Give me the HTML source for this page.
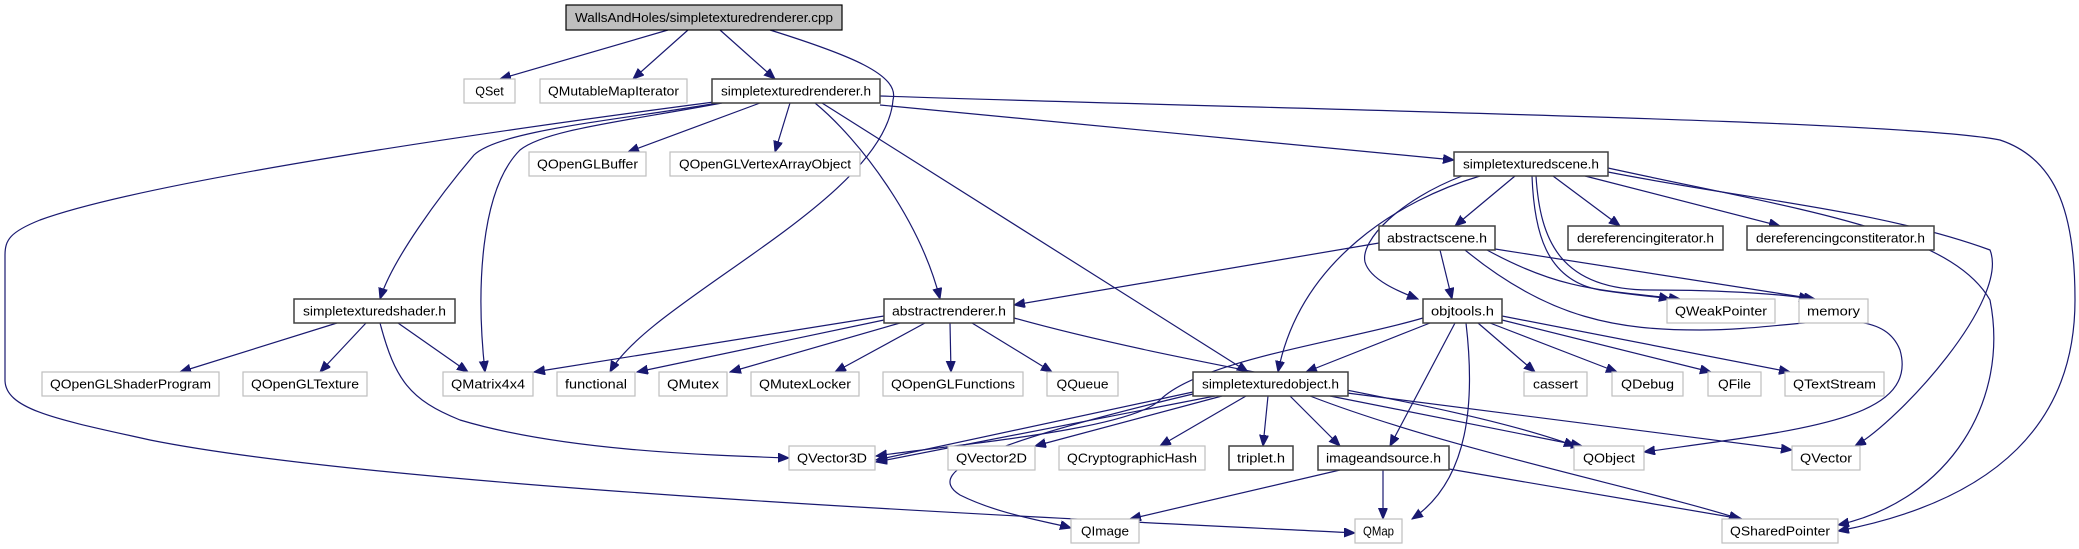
<!DOCTYPE html>
<html><head><meta charset="utf-8"><style>
html,body{margin:0;padding:0;background:#fff;}
svg{display:block;}
text{font-family:"Liberation Sans",sans-serif;font-size:12.5px;fill:#000;}
.e{fill:none;stroke:#191970;stroke-width:1.2;marker-end:url(#a);}
.g{fill:#fff;stroke:#bfbfbf;stroke-width:1.2;}
.b{fill:#fff;stroke:#404040;stroke-width:1.5;}
</style></head><body>
<svg width="2079" height="549" viewBox="0 0 2079 549" xmlns="http://www.w3.org/2000/svg">
<defs><marker id="a" markerUnits="userSpaceOnUse" markerWidth="12" markerHeight="10" refX="11" refY="4.5" orient="auto"><path d="M0,0 L11,4.5 L0,9 z" fill="#191970" stroke="#191970"/></marker></defs>
<g>
<path class="e" d="M668,30 L500,79"/>
<path class="e" d="M688,30 L633,79"/>
<path class="e" d="M720,30 L775,79"/>
<path class="e" d="M770,30 C850,55 900,75 893,100 C885,200 650,300 610,372"/>
<path class="e" d="M760,103 L628,152"/>
<path class="e" d="M790,103 L775,152"/>
<path class="e" d="M718,103 C620,120 500,130 474,155 C440,195 392,260 380,299"/>
<path class="e" d="M722,103 C620,122 545,130 520,150 C480,190 476,290 485,372"/>
<path class="e" d="M714,102 C500,130 150,180 40,220 C10,232 5,240 5,255 L5,380 C5,410 60,420 150,440 C400,490 1100,520 1355,533"/>
<path class="e" d="M815,103 C860,140 920,220 940,299"/>
<path class="e" d="M822,103 L1248,372"/>
<path class="e" d="M880,105 L1454,160"/>
<path class="e" d="M880,96 C1300,110 1900,120 2000,140 C2060,160 2075,220 2075,300 C2075,420 2000,500 1838,531"/>
<path class="e" d="M1515,176 L1455,226"/>
<path class="e" d="M1553,176 L1620,226"/>
<path class="e" d="M1585,176 L1780,226"/>
<path class="e" d="M1462,176 C1400,200 1360,240 1365,262 C1370,280 1400,292 1418,299"/>
<path class="e" d="M1480,176 C1400,200 1300,260 1278,372"/>
<path class="e" d="M1532,176 C1534,230 1545,280 1600,290 C1640,296 1660,297 1670,299"/>
<path class="e" d="M1536,176 C1540,240 1560,290 1650,290 C1730,290 1790,295 1810,299"/>
<path class="e" d="M1608,172 C1750,200 1880,210 1990,250 C2010,300 1900,420 1855,446"/>
<path class="e" d="M1608,168 C1800,210 1950,230 1990,300 C2010,400 1950,500 1838,525"/>
<path class="e" d="M1379,243 L1014,305"/>
<path class="e" d="M1440,250 L1452,299"/>
<path class="e" d="M1495,249 L1815,299"/>
<path class="e" d="M1487,250 C1560,290 1600,290 1680,299"/>
<path class="e" d="M1465,250 C1550,320 1620,330 1700,330 C1800,330 1880,300 1900,350 C1920,420 1800,430 1644,452"/>
<path class="e" d="M884,316 L534,372"/>
<path class="e" d="M884,320 L637,372"/>
<path class="e" d="M900,323 L730,372"/>
<path class="e" d="M925,323 L835,372"/>
<path class="e" d="M950,323 L951,372"/>
<path class="e" d="M972,323 L1052,372"/>
<path class="e" d="M1014,318 C1200,370 1450,400 1575,446"/>
<path class="e" d="M337,323 L180,372"/>
<path class="e" d="M366,323 L320,372"/>
<path class="e" d="M398,323 L468,372"/>
<path class="e" d="M380,323 C395,380 410,400 460,420 C560,450 700,455 789,458"/>
<path class="e" d="M1423,318 C1350,340 1200,360 1160,400 C1130,430 950,445 876,456"/>
<path class="e" d="M1430,323 L1306,372"/>
<path class="e" d="M1455,323 L1390,446"/>
<path class="e" d="M1466,323 C1475,400 1470,480 1412,519"/>
<path class="e" d="M1478,323 L1535,372"/>
<path class="e" d="M1490,323 L1617,372"/>
<path class="e" d="M1502,320 L1711,372"/>
<path class="e" d="M1502,316 L1790,372"/>
<path class="e" d="M1193,392 L876,460"/>
<path class="e" d="M1215,396 L876,462"/>
<path class="e" d="M1222,396 L1035,446"/>
<path class="e" d="M1246,396 L1160,446"/>
<path class="e" d="M1268,396 L1263,446"/>
<path class="e" d="M1290,396 L1340,446"/>
<path class="e" d="M1330,396 L1582,446"/>
<path class="e" d="M1347,393 L1792,450"/>
<path class="e" d="M1310,396 C1450,450 1650,490 1740,519"/>
<path class="e" d="M1193,394 C1000,440 920,470 960,495 C1000,515 1050,522 1071,528"/>
<path class="e" d="M1340,470 L1130,519"/>
<path class="e" d="M1383,470 L1383,519"/>
<path class="e" d="M1449,469 L1742,519"/>
</g>
<g>
<rect x="566" y="5" width="276" height="25" fill="#bfbfbf" stroke="#000" stroke-width="1.2"/><text x="704" y="22" text-anchor="middle" textLength="258" lengthAdjust="spacingAndGlyphs">WallsAndHoles/simpletexturedrenderer.cpp</text>
<rect class="g" x="464" y="79" width="51" height="24"/><text x="489.5" y="95.5" text-anchor="middle">QSet</text>
<rect class="g" x="540" y="79" width="147" height="24"/><text x="613.5" y="95.5" text-anchor="middle" textLength="131" lengthAdjust="spacingAndGlyphs">QMutableMapIterator</text>
<rect class="b" x="712" y="79" width="168" height="24"/><text x="796" y="95.5" text-anchor="middle" textLength="150" lengthAdjust="spacingAndGlyphs">simpletexturedrenderer.h</text>
<rect class="g" x="529" y="152" width="117" height="24"/><text x="587.5" y="168.5" text-anchor="middle" textLength="101" lengthAdjust="spacingAndGlyphs">QOpenGLBuffer</text>
<rect class="g" x="670" y="152" width="190" height="24"/><text x="765" y="168.5" text-anchor="middle" textLength="172" lengthAdjust="spacingAndGlyphs">QOpenGLVertexArrayObject</text>
<rect class="b" x="1454" y="152" width="154" height="24"/><text x="1531" y="168.5" text-anchor="middle" textLength="136" lengthAdjust="spacingAndGlyphs">simpletexturedscene.h</text>
<rect class="b" x="1379" y="226" width="116" height="24"/><text x="1437" y="242.5" text-anchor="middle" textLength="100" lengthAdjust="spacingAndGlyphs">abstractscene.h</text>
<rect class="b" x="1568" y="226" width="155" height="24"/><text x="1645.5" y="242.5" text-anchor="middle" textLength="137" lengthAdjust="spacingAndGlyphs">dereferencingiterator.h</text>
<rect class="b" x="1747" y="226" width="187" height="24"/><text x="1840.5" y="242.5" text-anchor="middle" textLength="169" lengthAdjust="spacingAndGlyphs">dereferencingconstiterator.h</text>
<rect class="b" x="294" y="299" width="161" height="24"/><text x="374.5" y="315.5" text-anchor="middle" textLength="143" lengthAdjust="spacingAndGlyphs">simpletexturedshader.h</text>
<rect class="b" x="884" y="299" width="130" height="24"/><text x="949" y="315.5" text-anchor="middle" textLength="114" lengthAdjust="spacingAndGlyphs">abstractrenderer.h</text>
<rect class="b" x="1423" y="299" width="79" height="24"/><text x="1462.5" y="315.5" text-anchor="middle" textLength="63" lengthAdjust="spacingAndGlyphs">objtools.h</text>
<rect class="g" x="1667" y="299" width="108" height="24"/><text x="1721" y="315.5" text-anchor="middle" textLength="92" lengthAdjust="spacingAndGlyphs">QWeakPointer</text>
<rect class="g" x="1799" y="299" width="69" height="24"/><text x="1833.5" y="315.5" text-anchor="middle" textLength="53" lengthAdjust="spacingAndGlyphs">memory</text>
<rect class="g" x="42" y="372" width="177" height="24"/><text x="130.5" y="388.5" text-anchor="middle" textLength="161" lengthAdjust="spacingAndGlyphs">QOpenGLShaderProgram</text>
<rect class="g" x="243" y="372" width="124" height="24"/><text x="305" y="388.5" text-anchor="middle" textLength="108" lengthAdjust="spacingAndGlyphs">QOpenGLTexture</text>
<rect class="g" x="443" y="372" width="90" height="24"/><text x="488" y="388.5" text-anchor="middle" textLength="74" lengthAdjust="spacingAndGlyphs">QMatrix4x4</text>
<rect class="g" x="557" y="372" width="78" height="24"/><text x="596" y="388.5" text-anchor="middle" textLength="62" lengthAdjust="spacingAndGlyphs">functional</text>
<rect class="g" x="659" y="372" width="68" height="24"/><text x="693" y="388.5" text-anchor="middle" textLength="52" lengthAdjust="spacingAndGlyphs">QMutex</text>
<rect class="g" x="751" y="372" width="108" height="24"/><text x="805" y="388.5" text-anchor="middle" textLength="92" lengthAdjust="spacingAndGlyphs">QMutexLocker</text>
<rect class="g" x="883" y="372" width="140" height="24"/><text x="953" y="388.5" text-anchor="middle" textLength="124" lengthAdjust="spacingAndGlyphs">QOpenGLFunctions</text>
<rect class="g" x="1047" y="372" width="71" height="24"/><text x="1082.5" y="388.5" text-anchor="middle" textLength="52" lengthAdjust="spacingAndGlyphs">QQueue</text>
<rect class="b" x="1193" y="372" width="155" height="24"/><text x="1270.5" y="388.5" text-anchor="middle" textLength="137" lengthAdjust="spacingAndGlyphs">simpletexturedobject.h</text>
<rect class="g" x="1524" y="372" width="63" height="24"/><text x="1555.5" y="388.5" text-anchor="middle" textLength="45" lengthAdjust="spacingAndGlyphs">cassert</text>
<rect class="g" x="1612" y="372" width="71" height="24"/><text x="1647.5" y="388.5" text-anchor="middle" textLength="53" lengthAdjust="spacingAndGlyphs">QDebug</text>
<rect class="g" x="1708" y="372" width="53" height="24"/><text x="1734.5" y="388.5" text-anchor="middle" textLength="33" lengthAdjust="spacingAndGlyphs">QFile</text>
<rect class="g" x="1785" y="372" width="99" height="24"/><text x="1834.5" y="388.5" text-anchor="middle" textLength="83" lengthAdjust="spacingAndGlyphs">QTextStream</text>
<rect class="g" x="789" y="446" width="86" height="24"/><text x="832" y="462.5" text-anchor="middle" textLength="70" lengthAdjust="spacingAndGlyphs">QVector3D</text>
<rect class="g" x="948" y="446" width="87" height="24"/><text x="991.5" y="462.5" text-anchor="middle" textLength="71" lengthAdjust="spacingAndGlyphs">QVector2D</text>
<rect class="g" x="1059" y="446" width="146" height="24"/><text x="1132" y="462.5" text-anchor="middle" textLength="130" lengthAdjust="spacingAndGlyphs">QCryptographicHash</text>
<rect class="b" x="1229" y="446" width="64" height="24"/><text x="1261" y="462.5" text-anchor="middle" textLength="48" lengthAdjust="spacingAndGlyphs">triplet.h</text>
<rect class="b" x="1318" y="446" width="131" height="24"/><text x="1383.5" y="462.5" text-anchor="middle" textLength="115" lengthAdjust="spacingAndGlyphs">imageandsource.h</text>
<rect class="g" x="1574" y="446" width="70" height="24"/><text x="1609" y="462.5" text-anchor="middle" textLength="52" lengthAdjust="spacingAndGlyphs">QObject</text>
<rect class="g" x="1792" y="446" width="68" height="24"/><text x="1826" y="462.5" text-anchor="middle" textLength="52" lengthAdjust="spacingAndGlyphs">QVector</text>
<rect class="g" x="1071" y="519" width="68" height="24"/><text x="1105" y="535.5" text-anchor="middle" textLength="48" lengthAdjust="spacingAndGlyphs">QImage</text>
<rect class="g" x="1355" y="519" width="47" height="24"/><text x="1378.5" y="535.5" text-anchor="middle" textLength="31" lengthAdjust="spacingAndGlyphs">QMap</text>
<rect class="g" x="1722" y="519" width="116" height="24"/><text x="1780" y="535.5" text-anchor="middle" textLength="100" lengthAdjust="spacingAndGlyphs">QSharedPointer</text>
</g>
</svg>
</body></html>
